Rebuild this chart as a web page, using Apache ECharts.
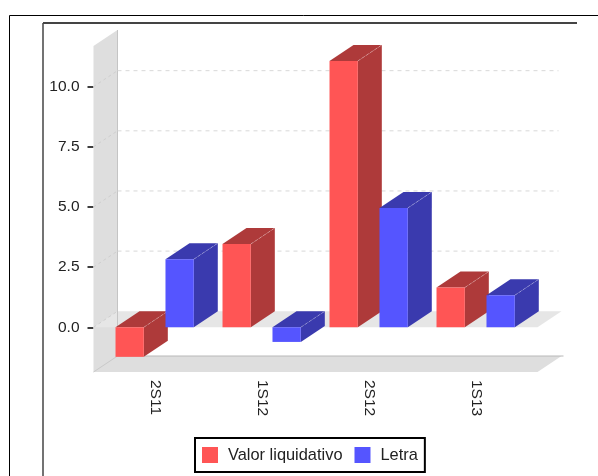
<!DOCTYPE html>
<html>
<head>
<meta charset="utf-8">
<style>html,body{margin:0;padding:0;background:#fff}#c{width:598px;height:476px}</style>
<script src="https://cdn.jsdelivr.net/npm/echarts@6/dist/echarts.min.js"></script>
</head>
<body>
<div id="c"></div>
<script>
const categories = ['2S11', '1S12', '2S12', '1S13'];
const valorLiquidativo = [-1.23, 3.46, 11.07, 1.65];
const letra = [2.83, -0.61, 4.96, 1.33];
const tickValues = [0, 2.5, 5, 7.5, 10];
const axisMin = -1.86, axisMax = 11.69;

const DX = 24, DY = -16;
const FONT = '"Liberation Sans", Arial, sans-serif';

function poly(points, fill, z2) {
  return { type: 'polygon', z2: z2 || 0, shape: { points }, style: { fill } };
}
function seg(x1, y1, x2, y2, stroke, dash) {
  return { type: 'line', shape: { x1, y1, x2, y2 }, style: { stroke, lineWidth: 1, lineDash: dash || null } };
}

function renderFrame(params, api) {
  const g = params.coordSys;
  const L = g.x - 8, R = g.x + g.width + 8;
  const bottom = api.coord([0, axisMin])[1], top = api.coord([0, axisMax])[1];
  const zero = api.coord([0, 0])[1];
  const kids = [
    poly([[L, top], [L + DX, top + DY], [L + DX, bottom + DY], [L, bottom]], '#DEDEDE'),
    poly([[L, bottom], [L + DX, bottom + DY], [R + DX, bottom + DY], [R, bottom]], '#DEDEDE'),
    poly([[L, zero], [L + DX, zero + DY], [R + DX, zero + DY], [R, zero]], '#E6E6E6'),
    seg(L + DX, top + DY, L + DX, bottom + DY, '#C4C4C4'),
    seg(L + DX, bottom + DY, R + DX + 2, bottom + DY, '#B8B8B8'),
    seg(L, bottom, L + DX, bottom + DY, '#C8C8C8')
  ];
  tickValues.forEach(function (t) {
    const y = api.coord([0, t])[1];
    if (t !== 0) kids.push(seg(L + DX, y + DY, R + DX - 3, y + DY, '#D8D8D8', [4, 4]));
    kids.push(seg(L, y, L + DX, y + DY, '#CFCFCF', [3, 3]));
  });
  return { type: 'group', children: kids };
}

function barRenderer(leftRatio, front, dark) {
  return function (params, api) {
    const band = api.size([1, 0])[0];
    const c = api.coord([api.value(0), api.value(1)]);
    const base = api.coord([api.value(0), 0])[1];
    const x0 = c[0] + leftRatio * band, x1 = x0 + band * 0.2645;
    const yT = Math.min(c[1], base), yB = Math.max(c[1], base);
    return {
      type: 'group',
      children: [
        poly([[x1, yT], [x1 + DX, yT + DY], [x1 + DX, yB + DY], [x1, yB]], dark),
        poly([[x0, yT], [x0 + DX, yT + DY], [x1 + DX, yT + DY], [x1, yT]], dark),
        { type: 'rect', shape: { x: x0, y: yT, width: x1 - x0, height: yB - yT }, style: { fill: front } },
        seg(x1, yT, x1 + DX, yT + DY, 'rgba(255,255,255,0.28)', [3, 2])
      ]
    };
  };
}

const chart = echarts.init(document.getElementById('c'), null, { renderer: 'canvas' });
chart.setOption({
  animation: false,
  backgroundColor: '#fff',
  grid: { left: 101.5, width: 428, top: 46, height: 326 },
  xAxis: {
    type: 'category',
    data: categories,
    axisLine: { show: false },
    axisTick: { show: false },
    axisLabel: { rotate: -90, margin: 8, color: '#222', fontFamily: FONT, fontSize: 15.5, interval: 0 }
  },
  yAxis: {
    type: 'value',
    min: axisMin,
    max: axisMax,
    offset: 8,
    splitLine: { show: false },
    axisLine: { show: false },
    axisTick: { show: true, length: 6, lineStyle: { color: '#000', width: 1.5 }, customValues: tickValues },
    axisLabel: {
      customValues: tickValues, margin: 14, color: '#222', fontFamily: FONT, fontSize: 15.5,
      formatter: function (v) { return Number(v).toFixed(1); }
    }
  },
  legend: {
    left: 195, top: 438,
    data: ['Valor liquidativo', 'Letra'],
    icon: 'rect',
    itemWidth: 16, itemHeight: 16, itemGap: 12,
    padding: [9, 7, 9, 7],
    borderColor: '#000', borderWidth: 2, backgroundColor: '#fff',
    textStyle: { color: '#222', fontFamily: FONT, fontSize: 16.4, padding: [0, 0, 0, 5] }
  },
  graphic: [
    { type: 'line', silent: true, shape: { x1: 9.5, y1: 15.5, x2: 598, y2: 15.5 }, style: { stroke: '#000', lineWidth: 1 } },
    { type: 'line', silent: true, shape: { x1: 9.5, y1: 15.5, x2: 9.5, y2: 476 }, style: { stroke: '#000', lineWidth: 1 } },
    { type: 'line', silent: true, shape: { x1: 43, y1: 23, x2: 577, y2: 23 }, style: { stroke: '#444', lineWidth: 2 } },
    { type: 'line', silent: true, shape: { x1: 43, y1: 23, x2: 43, y2: 476 }, style: { stroke: '#444', lineWidth: 1.5 } }
  ],
  series: [
    { name: 'frame', type: 'custom', silent: true, z: 1, renderItem: renderFrame, data: [[0, 0]], encode: { x: 0, y: 1 } },
    {
      name: 'Valor liquidativo', type: 'custom', z: 2, itemStyle: { color: '#FF5555' },
      renderItem: barRenderer(-0.369, '#FF5555', '#AE3A3A'),
      data: valorLiquidativo.map(function (v, i) { return [i, v]; }), encode: { x: 0, y: 1 }
    },
    {
      name: 'Letra', type: 'custom', z: 3, itemStyle: { color: '#5555FF' },
      renderItem: barRenderer(0.098, '#5555FF', '#3A3AAE'),
      data: letra.map(function (v, i) { return [i, v]; }), encode: { x: 0, y: 1 }
    }
  ]
});
</script>
</body>
</html>
